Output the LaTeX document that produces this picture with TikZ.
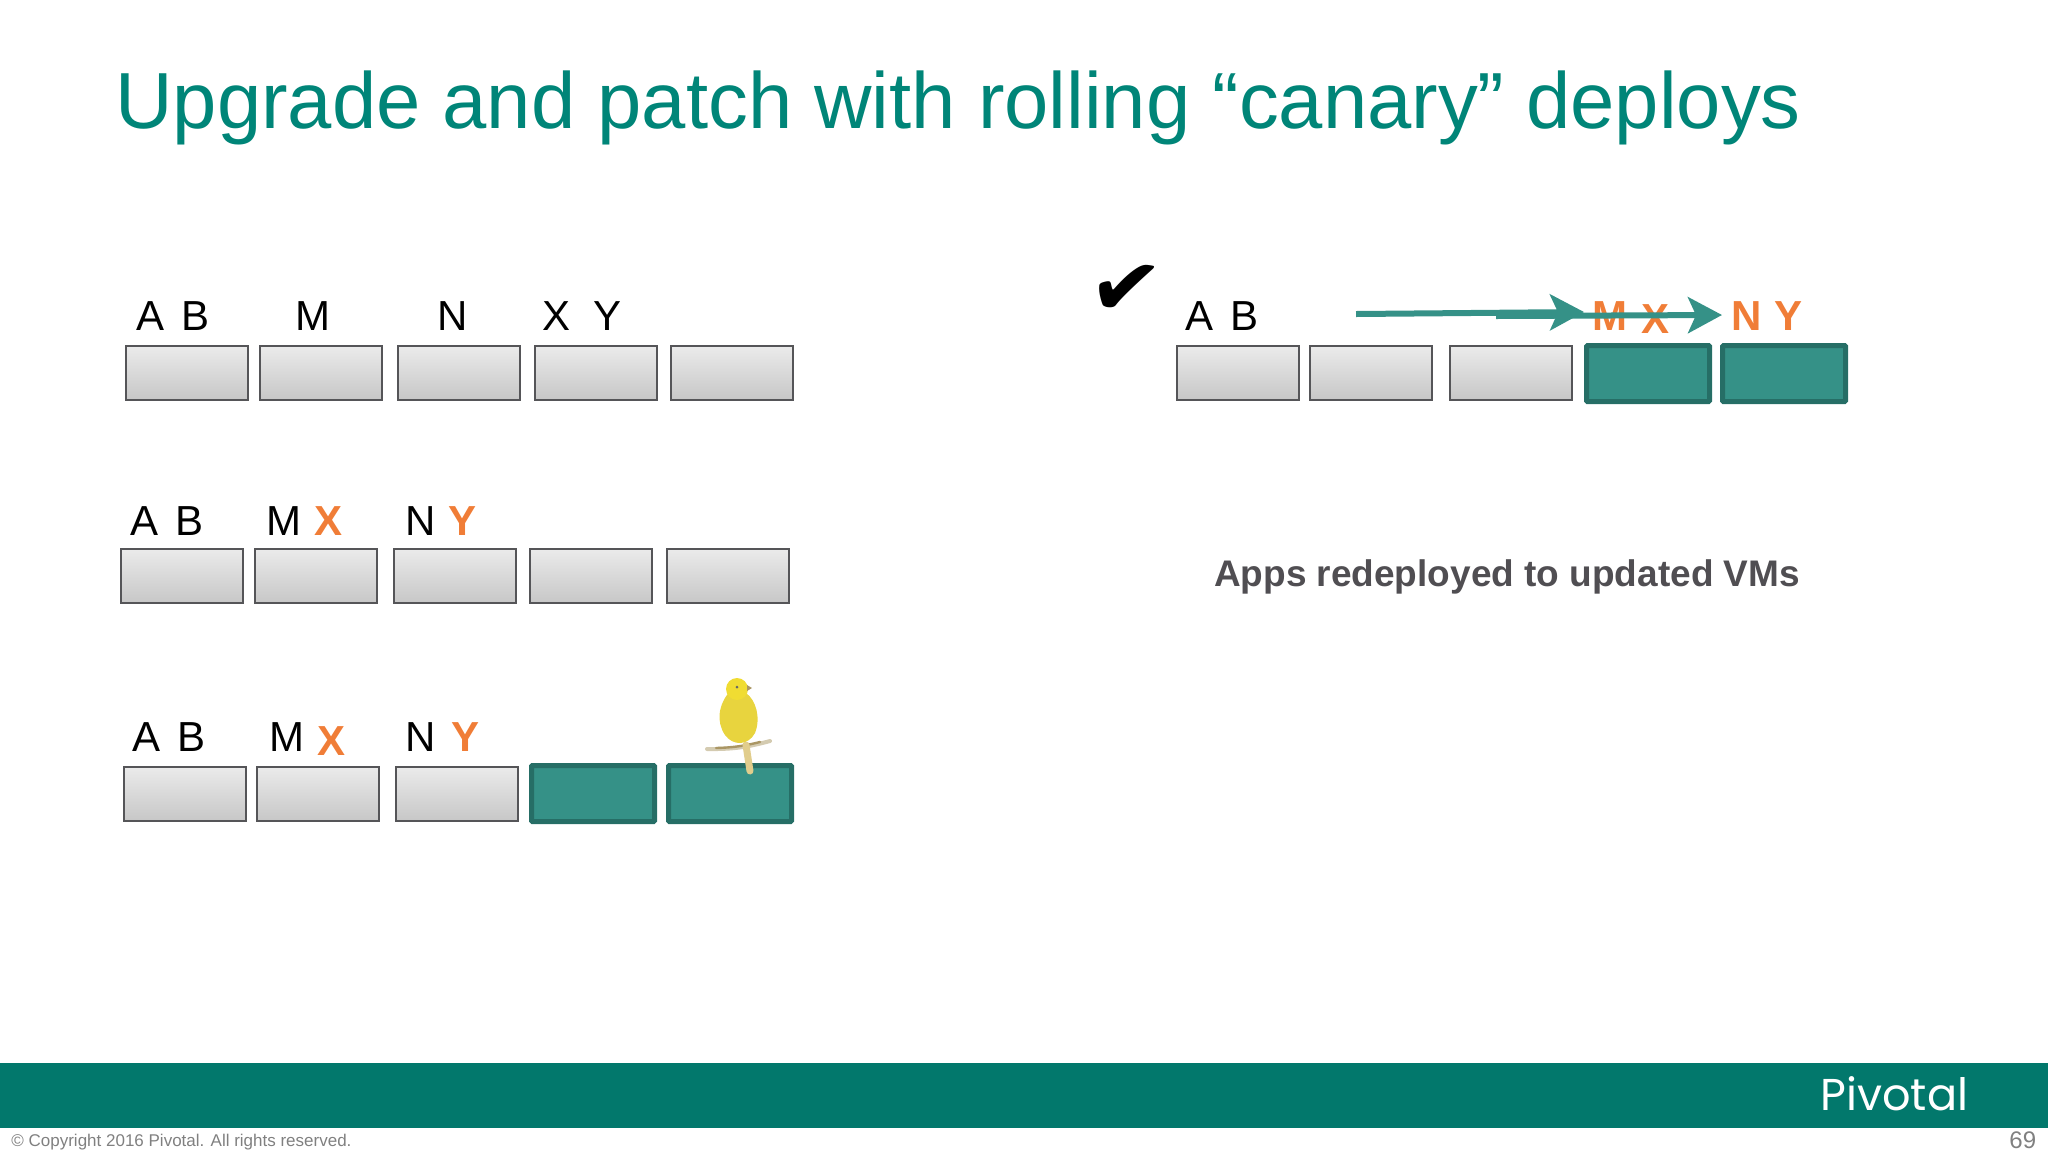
\documentclass[tikz,border=0pt]{standalone}
\usepackage{fontspec}
\setmainfont{Liberation Sans}
\newfontfamily\logofont{Poppins}
\newfontfamily\tickfont{DejaVu Sans}
\definecolor{pivteal}{RGB}{2,120,108}
\definecolor{boxteal}{RGB}{53,145,135}
\definecolor{boxtealdark}{RGB}{38,110,102}
\definecolor{titleteal}{RGB}{0,133,120}
\definecolor{apporange}{RGB}{240,125,55}
\definecolor{boxedge}{RGB}{85,85,88}
\definecolor{bartext}{RGB}{128,128,128}
\definecolor{captiongray}{RGB}{80,78,82}
\definecolor{canarybody}{RGB}{232,212,62}
\definecolor{canaryhead}{RGB}{240,220,50}
\definecolor{canaryperch}{RGB}{170,150,100}
\definecolor{canaryleg}{RGB}{225,205,140}
\usetikzlibrary{arrows.meta}
\tikzset{
  vmbox/.style={anchor=north west, draw=boxedge, line width=1pt, top color=black!8, bottom color=black!22, minimum width=61pt, minimum height=27pt, inner sep=0pt},
  newvm/.style={anchor=north west, draw=boxtealdark, fill=boxteal, line width=2.5pt, rounded corners=0.5pt, minimum width=61.5pt, minimum height=28pt, inner sep=0pt},
  app/.style={anchor=base, inner sep=0pt, font=\fontsize{21}{21}\selectfont},
  oldapp/.style={app, text=black},
  upapp/.style={app, text=apporange, font=\fontsize{21}{21}\selectfont\bfseries},
  move/.style={draw=boxteal, line width=3pt, -{Stealth[length=17pt, width=18pt, inset=4pt]}},
}

\begin{document}
\begin{tikzpicture}[x=0.5pt, y=-0.5pt]
  \useasboundingbox (0,0) rectangle (2048,1152);

  \node (title) [anchor=base west, inner sep=0pt, text=titleteal, font=\fontsize{39.8}{40}\selectfont] at (115,128) {Upgrade and patch with rolling “canary” deploys};

  % first row
  \node [vmbox] (rowa1) at (125,345) {};
  \node [vmbox] (rowa2) at (259,345) {};
  \node [vmbox] (rowa3) at (397,345) {};
  \node [vmbox] (rowa4) at (534,345) {};
  \node [vmbox] (rowa5) at (670,345) {};
  \node [oldapp] (rowaA) at (151,330) {A};
  \node [oldapp] (rowaB) at (196,330) {B};
  \node [oldapp] (rowaM) at (313,330) {M};
  \node [oldapp] (rowaN) at (453,330) {N};
  \node [oldapp] (rowaX) at (556,330) {X};
  \node [oldapp] (rowaY) at (607,330) {Y};

  % second row
  \node [vmbox] (rowb1) at (120,548) {};
  \node [vmbox] (rowb2) at (254,548) {};
  \node [vmbox] (rowb3) at (393,548) {};
  \node [vmbox] (rowb4) at (529,548) {};
  \node [vmbox] (rowb5) at (666,548) {};
  \node [oldapp] (rowbA) at (145,535) {A};
  \node [oldapp] (rowbB) at (190,535) {B};
  \node [oldapp] (rowbM) at (284,535) {M};
  \node [upapp] (rowbX) at (329,535) {X};
  \node [oldapp] (rowbN) at (421,535) {N};
  \node [upapp] (rowbY) at (462,535) {Y};

  % third row
  \node [vmbox] (rowc1) at (123,766) {};
  \node [vmbox] (rowc2) at (256,766) {};
  \node [vmbox] (rowc3) at (395,766) {};
  \node [newvm] (rowc4) at (529,763) {};
  \node [newvm] (rowc5) at (666,763) {};
  \node [oldapp] (rowcA) at (147,751) {A};
  \node [oldapp] (rowcB) at (192,751) {B};
  \node [oldapp] (rowcM) at (287,751) {M};
  \node [upapp] (rowcX) at (332,755) {X};
  \node [oldapp] (rowcN) at (421,751) {N};
  \node [upapp] (rowcY) at (465,751) {Y};

  % canary
  \draw [line width=2pt, draw=canaryperch!50, line cap=round] (707,749) to[bend right=8] (770,741);
  \draw [line width=1.2pt, draw=canaryperch, line cap=round] (716,748) to[bend right=6] (760,742);
  \draw [line width=3.5pt, draw=canaryleg, line cap=round] (746,745) -- (750,771);
  \fill [canarybody] (731,690) .. controls (718,704) and (716,722) .. (725,735) .. controls (733,746) and (748,746) .. (755,733) .. controls (761,718) and (756,700) .. (746,693) -- cycle;
  \fill [canaryhead] (737,689) circle [radius=11];
  \fill [black!60] (737,687) circle [radius=1.5];
  \fill [canaryperch] (747,685) -- (752,688) -- (747,691) -- cycle;

  % right row
  \node (tick) [inner sep=0pt, rotate=-7, font=\tickfont\fontsize{43}{43}\selectfont] at (1126,290) {✔};
  \node [vmbox] (rowd1) at (1176,345) {};
  \node [vmbox] (rowd2) at (1309,345) {};
  \node [vmbox] (rowd3) at (1449,345) {};
  \node [newvm] (rowd4) at (1584,343) {};
  \node [newvm] (rowd5) at (1720,343) {};
  \node [oldapp] (rowdA) at (1199,330) {A};
  \node [oldapp] (rowdB) at (1244,330) {B};
  \node [upapp] (rowdM) at (1610,330) {M};
  \node [upapp] (rowdX) at (1655,333) {X};
  \node [upapp] (rowdN) at (1747,330) {N};
  \node [upapp] (rowdY) at (1788,330) {Y};

  \coordinate (firststart) at (1356,314);
  \coordinate (firstend) at (1584,312);
  \coordinate (secondstart) at (1496,316);
  \coordinate (secondend) at (1722,315);
  \draw [move] (firststart) -- (firstend);
  \draw [move] (secondstart) -- (secondend);

  \node (caption) [anchor=base, inner sep=0pt, text=captiongray, font=\fontsize{18.5}{19}\selectfont\bfseries] at (1507,586) {Apps redeployed to updated VMs};

  % footer
  \fill [pivteal] (0,1063) rectangle (2048,1128);
  \node (logo) [anchor=base west, inner sep=0pt, text=white, font=\logofont\fontsize{22.3}{23}\selectfont] at (1820,1110) {Pivotal};
  \node (copyright) [anchor=base west, inner sep=0pt, text=bartext, font=\fontsize{8.5}{9}\selectfont] at (11,1146) {© Copyright 2016 Pivotal. All rights reserved.};
  \node (pagenum) [anchor=base west, inner sep=0pt, text=bartext, font=\fontsize{12}{12}\selectfont] at (2009,1148) {69};
\end{tikzpicture}
\end{document}
